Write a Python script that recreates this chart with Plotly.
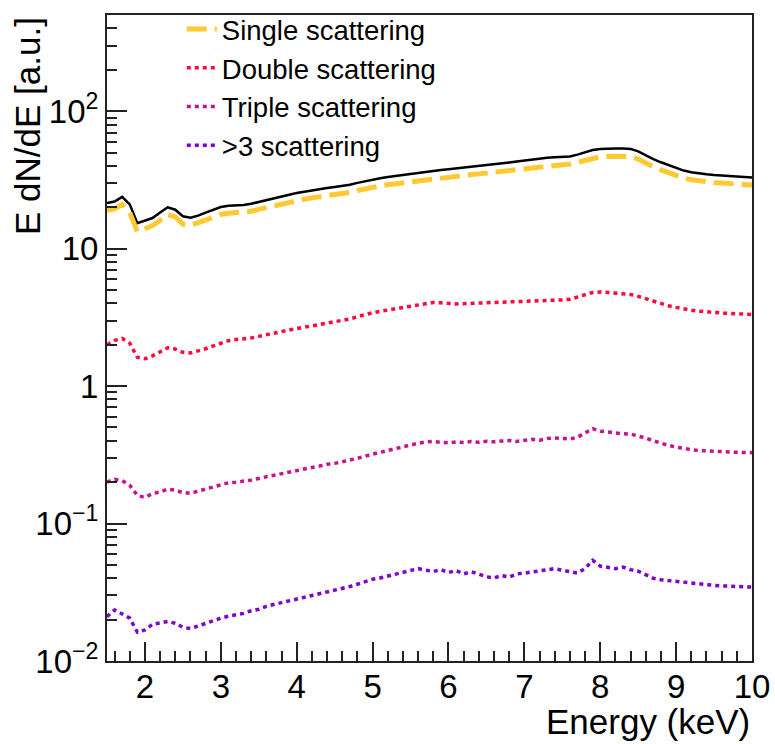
import plotly.graph_objects as go

energy = [1.5, 1.6, 1.7, 1.8, 1.9, 2.0, 2.1, 2.2, 2.3, 2.4, 2.5, 2.6, 2.7, 2.8, 2.9,
          3.0, 3.1, 3.2, 3.3, 3.4, 3.5, 3.6, 3.7, 3.8, 3.9, 4.0, 4.1, 4.2, 4.3, 4.4,
          4.5, 4.6, 4.7, 4.8, 4.9, 5.0, 5.1, 5.2, 5.3, 5.4, 5.5, 5.6, 5.7, 5.8, 5.9,
          6.0, 6.1, 6.2, 6.3, 6.4, 6.5, 6.6, 6.7, 6.8, 6.9, 7.0, 7.1, 7.2, 7.3, 7.4,
          7.5, 7.6, 7.7, 7.8, 7.9, 8.0, 8.1, 8.2, 8.3, 8.4, 8.5, 8.6, 8.7, 8.8, 8.9,
          9.0, 9.1, 9.2, 9.3, 9.4, 9.5, 9.6, 9.7, 9.8, 9.9, 10.0]

total = [21.5, 22.0, 23.8, 21.0, 15.3, 16.0, 16.7, 18.3, 20.0, 19.2, 17.2, 16.8, 17.4, 18.3, 19.3,
         20.1, 20.5, 20.6, 20.8, 21.2, 21.9, 22.6, 23.3, 24.0, 24.7, 25.4, 26.0, 26.6, 27.1, 27.6,
         28.1, 28.6, 29.2, 30.1, 31.0, 31.8, 32.5, 33.2, 33.8, 34.4, 35.0, 35.6, 36.3, 36.8, 37.3,
         37.8, 38.3, 38.8, 39.3, 39.8, 40.3, 40.9, 41.6, 42.4, 43.1, 43.8, 44.6, 45.3, 45.9, 46.2,
         46.4, 46.8, 48.3, 50.5, 52.2, 53.0, 53.4, 53.5, 53.5, 53.2, 51.0, 47.5, 44.8, 42.5, 40.5,
         38.6, 37.0, 36.0, 35.3, 34.8, 34.4, 34.1, 33.8, 33.5, 33.2, 33.0]

single = [19.0, 19.5, 21.0, 18.3, 13.3, 14.0, 14.7, 16.1, 17.7, 17.0, 15.1, 14.8, 15.3, 16.1, 17.0,
          17.8, 18.1, 18.2, 18.4, 18.7, 19.3, 19.9, 20.5, 21.1, 21.7, 22.3, 22.9, 23.4, 23.8, 24.3,
          24.7, 25.2, 25.7, 26.5, 27.3, 28.0, 28.6, 29.2, 29.7, 30.3, 30.8, 31.3, 31.9, 32.4, 32.8,
          33.3, 33.7, 34.1, 34.6, 35.0, 35.5, 36.0, 36.6, 37.3, 37.9, 38.5, 39.2, 39.9, 40.4, 40.7,
          40.8, 41.2, 42.5, 44.4, 45.9, 46.6, 47.0, 47.1, 47.1, 46.8, 44.9, 41.8, 39.4, 37.4, 35.6,
          34.0, 32.6, 31.7, 31.1, 30.6, 30.3, 30.0, 29.7, 29.5, 29.2, 29.0]

double = [2.00, 2.15, 2.22, 2.05, 1.62, 1.58, 1.66, 1.78, 1.90, 1.86, 1.76, 1.74, 1.80, 1.87, 1.96,
          2.06, 2.14, 2.18, 2.20, 2.24, 2.30, 2.37, 2.43, 2.50, 2.56, 2.62, 2.68, 2.74, 2.80, 2.88,
          2.94, 3.00, 3.08, 3.20, 3.32, 3.42, 3.50, 3.58, 3.66, 3.74, 3.84, 3.92, 4.02, 4.06, 4.04,
          4.00, 3.96, 3.98, 4.00, 3.97, 3.99, 4.02, 4.06, 4.05, 4.10, 4.14, 4.12, 4.16, 4.20, 4.22,
          4.24, 4.28, 4.42, 4.62, 4.80, 4.84, 4.80, 4.76, 4.70, 4.64, 4.50, 4.32, 4.14, 3.96, 3.84,
          3.74, 3.64, 3.57, 3.51, 3.46, 3.42, 3.40, 3.38, 3.36, 3.34, 3.32]

triple = [0.200, 0.210, 0.205, 0.190, 0.160, 0.155, 0.165, 0.170, 0.178, 0.175, 0.168, 0.166, 0.172, 0.178, 0.186,
          0.192, 0.198, 0.200, 0.203, 0.207, 0.213, 0.219, 0.225, 0.232, 0.238, 0.244, 0.250, 0.256, 0.262, 0.270,
          0.274, 0.280, 0.290, 0.298, 0.310, 0.320, 0.330, 0.340, 0.352, 0.362, 0.375, 0.384, 0.392, 0.396, 0.390,
          0.386, 0.392, 0.388, 0.395, 0.390, 0.397, 0.393, 0.398, 0.402, 0.396, 0.405, 0.410, 0.404, 0.415, 0.420,
          0.418, 0.412, 0.425, 0.455, 0.490, 0.470, 0.462, 0.458, 0.450, 0.448, 0.435, 0.418, 0.400, 0.382, 0.370,
          0.360, 0.350, 0.345, 0.340, 0.337, 0.335, 0.333, 0.332, 0.330, 0.329, 0.328]

multi = [0.0210, 0.0235, 0.0220, 0.0205, 0.0162, 0.0168, 0.0185, 0.0190, 0.0194, 0.0188, 0.0176, 0.0172, 0.0180, 0.0188, 0.0198,
         0.0205, 0.0212, 0.0216, 0.0222, 0.0232, 0.0238, 0.0250, 0.0256, 0.0266, 0.0274, 0.0282, 0.0290, 0.0300, 0.0310, 0.0318,
         0.0326, 0.0338, 0.0348, 0.0362, 0.0378, 0.0394, 0.0402, 0.0415, 0.0430, 0.0440, 0.0452, 0.0470, 0.0458, 0.0448, 0.0462,
         0.0440, 0.0455, 0.0430, 0.0446, 0.0428, 0.0410, 0.0402, 0.0418, 0.0408, 0.0430, 0.0436, 0.0445, 0.0452, 0.0462, 0.0470,
         0.0458, 0.0450, 0.0436, 0.0470, 0.0540, 0.0490, 0.0478, 0.0470, 0.0482, 0.0462, 0.0450, 0.0425, 0.0400, 0.0390, 0.0385,
         0.0378, 0.0370, 0.0365, 0.0362, 0.0358, 0.0355, 0.0352, 0.0350, 0.0348, 0.0347, 0.0345]

y_tickvals = [0.01, 0.1, 1, 10, 100]
y_ticktext = ["10<sup>\u22122</sup>", "10<sup>\u22121</sup>", "1", "10", "10<sup>2</sup>"]
x_tickvals = [2, 3, 4, 5, 6, 7, 8, 9, 10]

FONT = "Liberation Sans, Arial, sans-serif"

fig = go.Figure()
fig.add_trace(go.Scatter(x=energy, y=total, mode="lines", showlegend=False,
                         line=dict(color="black", width=2.5), name="Total"))
fig.add_trace(go.Scatter(x=energy, y=single, mode="lines", name="Single scattering",
                         line=dict(color="#ffc933", width=5, dash="20px,8px")))
fig.add_trace(go.Scatter(x=energy, y=double, mode="lines", name="Double scattering",
                         line=dict(color="#ff0a40", width=3.5, dash="4px,4px")))
fig.add_trace(go.Scatter(x=energy, y=triple, mode="lines", name="Triple scattering",
                         line=dict(color="#c8148c", width=3.5, dash="4px,4px")))
fig.add_trace(go.Scatter(x=energy, y=multi, mode="lines", name=">3 scattering",
                         line=dict(color="#8000cc", width=3.5, dash="4px,4px")))

minor_y = [m * 10 ** k for k in range(-2, 3) for m in range(2, 10)]

fig.update_layout(
    width=775, height=744,
    margin=dict(l=107, r=21, t=5, b=83),
    paper_bgcolor="white", plot_bgcolor="white",
    font=dict(family=FONT, color="black"),
    showlegend=True,
    legend=dict(x=0.116, y=1.016, xanchor="left", yanchor="top",
                bgcolor="rgba(0,0,0,0)", font=dict(size=27.5, family=FONT)),
    xaxis=dict(range=[1.5, 10], showgrid=False, zeroline=False,
               showline=True, linecolor="#222", linewidth=2, mirror=True,
               ticks="inside", ticklen=19, tickwidth=1.5, tickcolor="#222",
               tickmode="array", tickvals=x_tickvals, ticklabelstandoff=-5,
               tickfont=dict(size=33, family=FONT),
               minor=dict(ticks="inside", ticklen=10, dtick=0.2, tick0=0, tickcolor="#222", tickwidth=1.5)),
    yaxis=dict(type="log", range=[-2, 2.70], showgrid=False, zeroline=False,
               showline=True, linecolor="#222", linewidth=2, mirror=True,
               ticks="inside", ticklen=20, tickwidth=1.5, tickcolor="#222",
               tickmode="array", tickvals=y_tickvals, ticktext=y_ticktext,
               tickfont=dict(size=33, family=FONT),
               minor=dict(ticks="inside", ticklen=10, tickmode="array", tickvals=minor_y,
                          tickcolor="#222", tickwidth=1.5)),
    annotations=[
        dict(text="E dN/dE [a.u.]", xref="paper", yref="paper", x=-0.124, y=1.0,
             xanchor="center", yanchor="top", textangle=-90, showarrow=False,
             font=dict(size=35, family=FONT)),
        dict(text="Energy (keV)", xref="paper", yref="paper", x=1.0, y=-0.093,
             xanchor="right", yanchor="middle", showarrow=False,
             font=dict(size=35, family=FONT)),
    ],
)

fig.write_html("out.html")
